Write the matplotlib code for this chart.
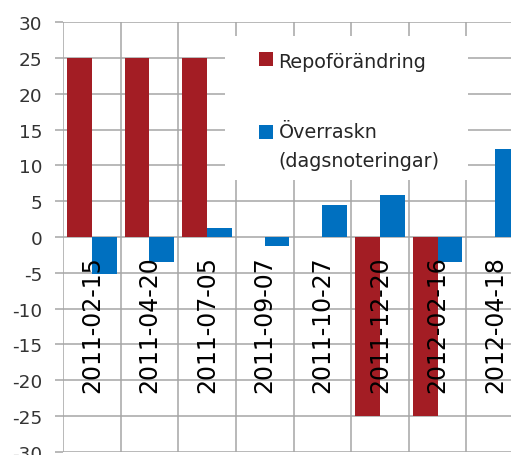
import matplotlib.pyplot as plt
from matplotlib.patches import Rectangle
import numpy as np

dates = ['2011-02-15', '2011-04-20', '2011-07-05', '2011-09-07',
         '2011-10-27', '2011-12-20', '2012-02-16', '2012-04-18']
repo_change = [25, 25, 25, 0, 0, -25, -25, 0]
surprise = [-5.1, -3.5, 1.2, -1.2, 4.4, 5.9, -3.5, 12.3]

RED = '#A31D24'
BLUE = '#0070C0'
GRID = '#A6A6A6'
W, H = 511, 456

plt.rcParams['axes.unicode_minus'] = False


def fig_xy(px, py):
    # pixel position (from top left) -> figure fraction
    return px / W, 1 - py / H


fig = plt.figure(figsize=(W / 100, H / 100), dpi=100)
ax = fig.add_axes([63 / W, 3.2 / H, 461 / W, 429.6 / H])

# move the category axis to zero first, it resets the ticks
for spine in ax.spines.values():
    spine.set_visible(False)
ax.spines['bottom'].set_position(('data', 0))

x = np.arange(len(dates))
width = 0.43
ax.bar(x - width / 2, repo_change, width, color=RED, zorder=3)
ax.bar(x + width / 2, surprise, width, color=BLUE, zorder=3)

ax.set_xlim(-0.5, len(dates) - 0.5)
ax.set_ylim(-30, 30)
ax.set_yticks(np.arange(-30, 31, 5))
ax.set_xticks(x)
ax.set_xticks(np.arange(-0.5, len(dates), 1), minor=True)
ax.set_xticklabels(dates, rotation=90, fontsize=17, color='black')

ax.set_axisbelow(True)
# date labels sit on top of the bars (vertical grid lies between bars)
ax.xaxis.set_zorder(4)
ax.grid(axis='y', which='major', color=GRID, lw=1.1)
ax.grid(axis='x', which='minor', color=GRID, lw=1.1)
ax.tick_params(axis='x', which='both', length=0, pad=13)
ax.tick_params(axis='y', length=5.8, width=1.1, color=GRID, pad=9.2,
               labelsize=13.3, labelcolor='#333333')

# legend box drawn over the gridlines
lx, ly = fig_xy(225, 181)
lw, lh = (468 - 225) / W, (181 - 37) / H
fig.patches.append(Rectangle((lx, ly), lw, lh, transform=fig.transFigure,
                             facecolor='white', edgecolor='none', zorder=2))
for color, py in [(RED, 53), (BLUE, 125.5)]:
    px0, py0 = fig_xy(258.5, py + 14)
    fig.patches.append(Rectangle((px0, py0), 14 / W, 14 / H,
                                 transform=fig.transFigure, facecolor=color,
                                 edgecolor='none', zorder=3))
for label, py in [('Repoförändring', 68), ('Överraskn', 138.5),
                  ('(dagsnoteringar)', 167)]:
    tx, ty = fig_xy(278.5, py)
    fig.text(tx, ty, label, fontsize=13.8, color='#262626', va='baseline',
             ha='left', zorder=4)

fig.savefig('out.png', dpi=100)
